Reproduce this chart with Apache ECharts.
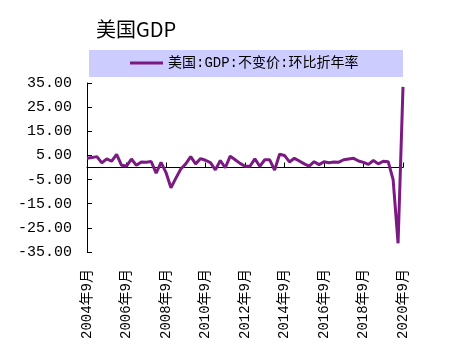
<!DOCTYPE html>
<html>
<head>
<meta charset="utf-8">
<script src="https://cdn.jsdelivr.net/npm/echarts@6/dist/echarts.min.js"></script>
<style>html,body{margin:0;padding:0;background:#fff}#c{width:451px;height:358px}</style>
</head>
<body>
<div id="c"></div>
<script>
// Quarter-end categories 2004Q3 .. 2020Q3
const years = [2004,2005,2006,2007,2008,2009,2010,2011,2012,2013,2014,2015,2016,2017,2018,2019,2020];
const quarterMonths = [3,6,9,12];
const categories = [];
years.forEach(y => quarterMonths.forEach(m => {
  if ((y === 2004 && m < 9) || (y === 2020 && m > 9)) return;
  categories.push(y + '年' + m + '月');
}));

const seriesName = '美国:GDP:不变价:环比折年率';
const gdpQoQ = [
  3.8, 4.1,
  4.5, 1.9, 3.6, 2.6,
  5.4, 0.9, 0.6, 3.5,
  0.9, 2.3, 2.2, 2.5,
  -2.3, 2.1, -2.1, -8.4,
  -4.4, -0.6, 1.5, 4.5,
  1.5, 3.7, 3.0, 2.0,
  -1.0, 2.9, -0.1, 4.7,
  3.2, 1.7, 0.5, 0.5,
  3.6, 0.5, 3.2, 3.2,
  -1.1, 5.5, 5.0, 2.3,
  3.8, 2.7, 1.5, 0.6,
  2.4, 1.2, 2.4, 2.0,
  2.3, 2.2, 3.2, 3.5,
  3.8, 2.7, 2.1, 1.3,
  2.9, 1.5, 2.6, 2.4,
  -5.0, -31.4, 33.4
];
const yMin = -35, yMax = 35, yStep = 10;

const FONT = "'Liberation Mono','Noto Sans CJK SC',monospace";
const chart = echarts.init(document.getElementById('c'), null, {renderer: 'canvas'});
chart.setOption({
  backgroundColor: '#ffffff',
  animation: false,
  title: {
    text: '美国GDP', left: 91, top: 14,
    textStyle: {fontSize: 20, fontWeight: 'normal', color: '#000', fontFamily: "'Noto Sans CJK SC'"}
  },
  graphic: [{
    type: 'rect', left: 89, top: 50, shape: {width: 314, height: 27},
    style: {fill: '#ccccff'}, z: -1
  }],
  legend: {
    left: 130, top: 56, padding: 0,
    icon: 'rect', itemWidth: 33, itemHeight: 3, itemGap: 5,
    textStyle: {fontSize: 14, color: '#000', fontFamily: FONT},
    data: [seriesName]
  },
  grid: {left: 87, top: 83, width: 316, height: 169, containLabel: false, outerBoundsMode: 'none'},
  xAxis: [{
    type: 'category', data: categories, boundaryGap: false,
    axisLine: {show: true, onZero: true, lineStyle: {color: '#000', width: 1}},
    axisTick: {show: true, inside: true, length: 5, interval: 7, lineStyle: {color: '#000'}},
    axisLabel: {show: false},
    splitLine: {show: false}
  }, {
    type: 'category', data: categories, boundaryGap: false, position: 'bottom',
    axisLine: {show: false, onZero: false},
    axisTick: {show: false},
    axisLabel: {interval: 7, rotate: 90, margin: 17, fontSize: 14, color: '#000', fontFamily: FONT},
    splitLine: {show: false}
  }],
  yAxis: {
    type: 'value', min: yMin, max: yMax, interval: yStep,
    axisLine: {show: true, onZero: false, lineStyle: {color: '#000', width: 1}},
    axisTick: {show: true, inside: true, length: 5, lineStyle: {color: '#000'}},
    axisLabel: {fontSize: 15, color: '#000', margin: 15, fontFamily: FONT,
      formatter: v => v.toFixed(2)},
    splitLine: {show: false}
  },
  series: [{
    name: seriesName, type: 'line', xAxisIndex: 0, data: gdpQoQ,
    showSymbol: false, symbol: 'none',
    lineStyle: {color: '#7b1a82', width: 3},
    itemStyle: {color: '#7b1a82'}
  }]
});
</script>
</body>
</html>
